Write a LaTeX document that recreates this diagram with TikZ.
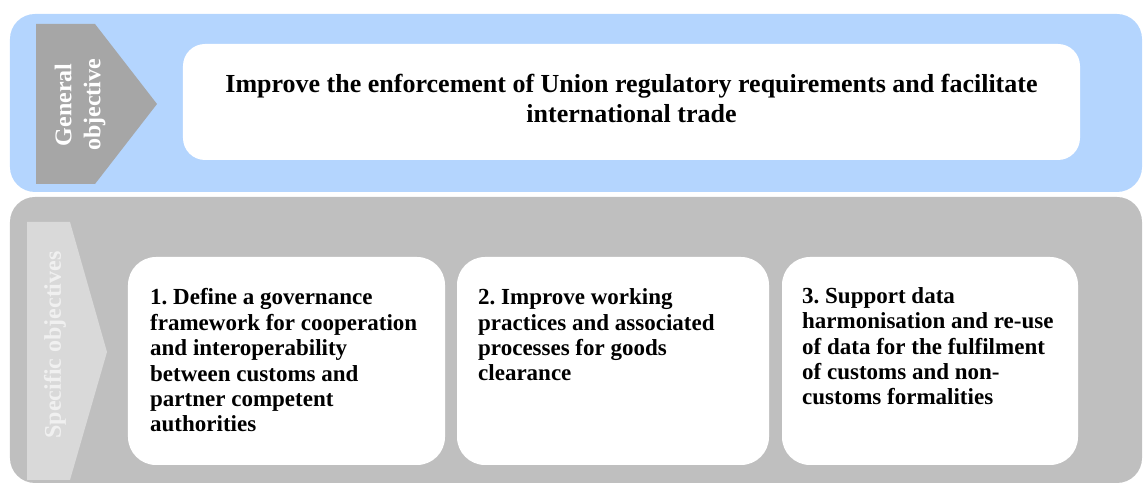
\documentclass[tikz,border=0pt]{standalone}
\usepackage{fontspec}
\setmainfont{Liberation Serif}
\frenchspacing
\usetikzlibrary{positioning, calc}
\definecolor{goblu}{RGB}{180,213,254}
\definecolor{sogry}{RGB}{191,191,191}
\definecolor{gotag}{RGB}{166,166,166}
\definecolor{sotag}{RGB}{217,217,217}
\definecolor{sotxt}{RGB}{240,240,240}
\tikzset{
  bandbox/.style  = {rounded corners=25bp, inner sep=0pt,
                     minimum width=1132bp},
  goalbox/.style  = {fill=white, rounded corners=22bp, inner sep=0pt,
                     minimum width=897bp, minimum height=116bp},
  objbox/.style   = {fill=white, rounded corners=28bp, inner sep=0pt,
                     minimum height=208bp},
  objtext/.style  = {anchor=base west, align=left, inner sep=0pt,
                     font=\fontsize{23bp}{25.4bp}\selectfont\bfseries},
  tagtext/.style  = {rotate=90, align=center, inner sep=0pt,
                     font=\fontsize{24bp}{29bp}\selectfont\bfseries},
}
\begin{document}
\begin{tikzpicture}[x=1bp, y=1bp]
        \useasboundingbox (0,0) rectangle (1145,488);
        % bands
        \node[bandbox, fill=goblu, minimum height=178bp] (gband) at (576,385) {};
        \node[bandbox, fill=sogry, minimum height=286bp] (sband) at (576,148) {};
        % tags
        \fill[gotag] (36,304) -- (95,304) -- (157,384) -- (95,464) -- (36,464) -- cycle;
        \fill[sotag] (27,8) -- (70,8) -- (107,136) -- (70,266) -- (27,266) -- cycle;
        \node[tagtext, text=white] (gtag) at (80,383) {General\\objective};
        \node[tagtext, text=sotxt] (stag) at (55,143) {Specific objectives};
        % general objective
        \node[goalbox] (goal) at (631.5,386) {};
        \node[anchor=base, align=center, inner sep=0pt,
              font=\fontsize{26bp}{30bp}\selectfont\bfseries] (goaltxt) at (631.5,365)
              {Improve the enforcement of Union regulatory requirements and facilitate\\
               international trade};
        % specific objectives
        \node[objbox, minimum width=317bp] (o1) at (286.5,127) {};
        \node[objbox, minimum width=312bp] (o2) at (613,127) {};
        \node[objbox, minimum width=296bp] (o3) at (930,127) {};
        \node[objtext] (o1txt) at (150,56) {1. Define a governance\\framework for cooperation\\
              and interoperability\\between customs and\\partner competent\\authorities};
        \node[objtext] (o2txt) at (478,107) {2. Improve working\\practices and associated\\
              processes for goods\\clearance};
        \node[objtext] (o3txt) at (802,83) {3. Support data\\harmonisation and re-use\\
              of data for the fulfilment\\of customs and non-\\customs formalities};
      \end{tikzpicture}
\end{document}
